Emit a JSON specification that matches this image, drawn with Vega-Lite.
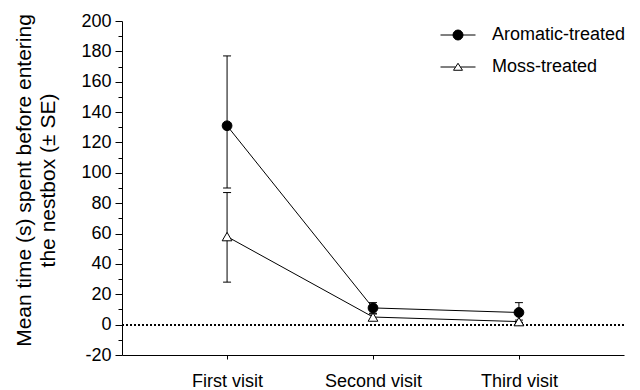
{
  "$schema": "https://vega.github.io/schema/vega-lite/v6.json",
  "width": 502,
  "height": 334,
  "autosize": {"type": "none"},
  "padding": {"left": 122, "top": 21, "right": 16, "bottom": 35},
  "background": "white",
  "config": {
    "font": "Liberation Sans",
    "view": {"stroke": null},
    "axis": {"grid": false, "domainColor": "black", "tickColor": "black", "labelColor": "black", "titleColor": "black", "labelFont": "Liberation Sans", "titleFont": "Liberation Sans", "domainWidth": 1, "tickWidth": 1}
  },
  "data": {
    "values": [
      {"visit": "First visit", "group": "Aromatic-treated", "mean": 131, "lower": 90, "upper": 177},
      {"visit": "Second visit", "group": "Aromatic-treated", "mean": 11, "lower": 7.5, "upper": 14.5},
      {"visit": "Third visit", "group": "Aromatic-treated", "mean": 8, "lower": 1.5, "upper": 14.5},
      {"visit": "First visit", "group": "Moss-treated", "mean": 58, "lower": 28, "upper": 87},
      {"visit": "Second visit", "group": "Moss-treated", "mean": 5, "lower": 3, "upper": 7},
      {"visit": "Third visit", "group": "Moss-treated", "mean": 2, "lower": 1, "upper": 3}
    ]
  },
  "resolve": {"axis": {"y": "independent"}},
  "layer": [
    {
      "mark": {"type": "rule", "strokeDash": [2, 2], "strokeWidth": 1.5, "color": "black"},
      "encoding": {
        "y": {
          "datum": 0, "type": "quantitative",
          "scale": {"domain": [-20, 200], "nice": false},
          "axis": {
            "orient": "left", "title": null, "labels": false, "domain": false,
            "values": [-10, 10, 30, 50, 70, 90, 110, 130, 150, 170, 190],
            "tickSize": 4
          }
        }
      }
    },
    {
      "mark": {"type": "line", "color": "black", "strokeWidth": 1},
      "encoding": {
        "x": {
          "field": "visit", "type": "ordinal",
          "scale": {"type": "point", "padding": 0.72, "domain": ["First visit", "Second visit", "Third visit"]},
          "axis": {"title": null, "labelAngle": 0, "labelFontSize": 18, "tickSize": 4, "labelPadding": 13}
        },
        "detail": {"field": "group", "type": "nominal"},
        "y": {
          "field": "mean", "type": "quantitative",
          "scale": {"domain": [-20, 200], "nice": false},
          "axis": {
            "orient": "left",
            "title": ["Mean time (s) spent before entering", "the nestbox (± SE)"],
            "titleFontSize": 21, "titleFontWeight": "normal", "titlePadding": 22, "titleLineHeight": 24,
            "titleY": 159,
            "values": [-20, 0, 20, 40, 60, 80, 100, 120, 140, 160, 180, 200],
            "labelExpr": "'' + datum.value",
            "labelOverlap": false,
            "labelFontSize": 18, "labelPadding": 4, "tickSize": 7
          }
        }
      }
    },
    {
      "mark": {"type": "rule", "color": "black", "strokeWidth": 1},
      "encoding": {
        "x": {"field": "visit", "type": "ordinal"},
        "y": {"field": "lower", "type": "quantitative", "axis": null},
        "y2": {"field": "upper"}
      }
    },
    {
      "mark": {"type": "tick", "color": "black", "thickness": 1, "size": 8, "opacity": 1},
      "encoding": {
        "x": {"field": "visit", "type": "ordinal"},
        "y": {"field": "upper", "type": "quantitative", "axis": null}
      }
    },
    {
      "mark": {"type": "tick", "color": "black", "thickness": 1, "size": 8, "opacity": 1},
      "encoding": {
        "x": {"field": "visit", "type": "ordinal"},
        "y": {"field": "lower", "type": "quantitative", "axis": null}
      }
    },
    {
      "mark": {"type": "point", "filled": true, "stroke": "black", "strokeWidth": 1, "opacity": 1, "size": 95},
      "encoding": {
        "x": {"field": "visit", "type": "ordinal"},
        "y": {"field": "mean", "type": "quantitative", "axis": null},
        "shape": {"condition": {"test": "datum.group === 'Moss-treated'", "value": "triangle-up"}, "value": "circle"},
        "fill": {
          "field": "group", "type": "nominal",
          "scale": {"domain": ["Aromatic-treated", "Moss-treated"], "range": ["black", "white"]},
          "legend": {
            "title": null, "orient": "none", "legendX": 327, "legendY": 5,
            "symbolSize": 100, "symbolStrokeColor": "black", "symbolStrokeWidth": 1, "symbolOpacity": 1,
            "labelFontSize": 18, "labelFont": "Liberation Sans", "labelColor": "black",
            "labelOffset": 25, "rowPadding": 14, "padding": 0,
            "encode": {
              "symbols": {
                "update": {
                  "shape": {"signal": "datum.value === 'Aromatic-treated' ? 'M-3.5,0H3.5M1,0A1,1,0,1,1,-1,0A1,1,0,1,1,1,0Z' : 'M-3.5,0H-0.5M0.5,0H3.5M0,-0.75L0.9,0.65L-0.9,0.65Z'"},
                  "stroke": {"value": "black"},
                  "strokeWidth": {"value": 1}
                }
              }
            }
          }
        }
      }
    }
  ]
}
